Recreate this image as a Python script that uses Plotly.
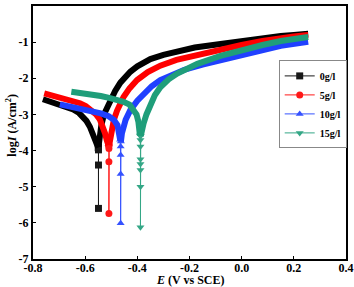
import plotly.graph_objects as go

# ---------------- data ----------------
names = ["0g/l", "5g/l", "10g/l", "15g/l"]

# 0 g/l
e0_cath = [-0.762, -0.74, -0.72, -0.697, -0.675, -0.646, -0.625, -0.608, -0.595, -0.582, -0.572, -0.565, -0.559, -0.554, -0.550]
i0_cath = [-2.58, -2.63, -2.67, -2.71, -2.77, -2.86, -2.95, -3.06, -3.18, -3.34, -3.50, -3.63, -3.75, -3.85, -3.92]
e0_dip = [-0.549, -0.549, -0.549]
i0_dip = [-3.98, -4.40, -5.60]
e0_anod = [-0.549, -0.545, -0.538, -0.528, -0.515, -0.500, -0.485, -0.465, -0.445, -0.427, -0.400, -0.350, -0.300, -0.247, -0.180, -0.081, 0.000, 0.080, 0.150, 0.200, 0.255]
i0_anod = [-3.90, -3.60, -3.30, -3.00, -2.78, -2.55, -2.35, -2.12, -1.95, -1.82, -1.67, -1.47, -1.35, -1.25, -1.15, -1.05, -0.96, -0.89, -0.83, -0.80, -0.77]

# 5 g/l
e5_cath = [-0.757, -0.73, -0.70, -0.672, -0.645, -0.620, -0.598, -0.576, -0.558, -0.543, -0.532, -0.524, -0.517, -0.511]
i5_cath = [-2.42, -2.47, -2.52, -2.56, -2.62, -2.69, -2.77, -2.88, -3.00, -3.15, -3.33, -3.52, -3.72, -3.85]
e5_dip = [-0.509, -0.509, -0.509]
i5_dip = [-3.94, -4.31, -5.74]
e5_anod = [-0.508, -0.503, -0.497, -0.490, -0.478, -0.465, -0.453, -0.430, -0.401, -0.360, -0.312, -0.250, -0.183, -0.081, 0.000, 0.080, 0.150, 0.200, 0.255]
i5_anod = [-3.85, -3.60, -3.35, -3.15, -2.90, -2.70, -2.52, -2.28, -2.05, -1.83, -1.65, -1.49, -1.37, -1.22, -1.08, -0.97, -0.88, -0.84, -0.80]

# 10 g/l
e10_cath = [-0.697, -0.660, -0.620, -0.580, -0.540, -0.510, -0.490, -0.476, -0.469, -0.466]
i10_cath = [-2.72, -2.77, -2.83, -2.88, -2.97, -3.05, -3.15, -3.30, -3.50, -3.70]
e10_dip = [-0.464, -0.464, -0.464, -0.464]
i10_dip = [-3.89, -4.12, -4.65, -6.01]
e10_anod = [-0.463, -0.459, -0.445, -0.427, -0.400, -0.376, -0.345, -0.312, -0.270, -0.222, -0.150, -0.081, 0.000, 0.070, 0.150, 0.200, 0.255]
i10_anod = [-3.75, -3.52, -3.15, -2.88, -2.62, -2.42, -2.22, -2.05, -1.90, -1.77, -1.62, -1.49, -1.35, -1.24, -1.10, -1.04, -0.99]

# 15 g/l
e15_cath = [-0.653, -0.620, -0.580, -0.540, -0.504, -0.475, -0.453, -0.430, -0.414, -0.403, -0.396, -0.392, -0.390]
i15_cath = [-2.37, -2.40, -2.44, -2.49, -2.55, -2.60, -2.65, -2.73, -2.86, -3.00, -3.20, -3.40, -3.58]
e15_dip = [-0.388, -0.388, -0.388, -0.388, -0.388, -0.388, -0.388]
i15_dip = [-3.71, -3.89, -4.24, -4.37, -4.54, -5.00, -6.12]
e15_anod = [-0.387, -0.382, -0.376, -0.365, -0.350, -0.333, -0.312, -0.280, -0.247, -0.210, -0.170, -0.081, 0.000, 0.080, 0.150, 0.200, 0.255]
i15_anod = [-3.60, -3.40, -3.25, -3.00, -2.72, -2.47, -2.25, -2.03, -1.87, -1.72, -1.60, -1.38, -1.22, -1.08, -0.97, -0.91, -0.86]

x_ticks = [-0.8, -0.6, -0.4, -0.2, 0.0, 0.2, 0.4]
x_tick_labels = ["-0.8", "-0.6", "-0.4", "-0.2", "0.0", "0.2", "0.4"]
y_ticks = [0, -1, -2, -3, -4, -5, -6, -7]
y_tick_labels = ["0", "-1", "-2", "-3", "-4", "-5", "-6", "-7"]

# ---------------- styling ----------------
colors = ["#000000", "#ff0000", "#2040ff", "#1f9e7a"]
symbols = ["square", "circle", "triangle-up", "triangle-down"]
series = [
    (e0_cath, i0_cath, e0_dip, i0_dip, e0_anod, i0_anod),
    (e5_cath, i5_cath, e5_dip, i5_dip, e5_anod, i5_anod),
    (e10_cath, i10_cath, e10_dip, i10_dip, e10_anod, i10_anod),
    (e15_cath, i15_cath, e15_dip, i15_dip, e15_anod, i15_anod),
]
FONT = "Liberation Serif"

fig = go.Figure()
for k, (ec, ic, ed, idp, ea, ia) in enumerate(series):
    # thick band made by densely packed data markers
    fig.add_trace(go.Scatter(
        x=ec + [None] + ea, y=ic + [None] + ia, mode="lines",
        line=dict(color=colors[k], width=6), showlegend=False, hoverinfo="skip"))
    # sparse points near the corrosion potential
    fig.add_trace(go.Scatter(
        x=[ec[-1]] + ed + [ea[0]], y=[ic[-1]] + idp + [ia[0]],
        mode="lines+markers", name=names[k],
        line=dict(color=colors[k], width=1),
        marker=dict(symbol=symbols[k], size=7, color=colors[k], line=dict(width=0)),
        opacity=0.9))

axis_common = dict(showline=True, linewidth=2, linecolor="black", mirror=True,
                   showgrid=False, zeroline=False, ticks="inside", ticklen=3,
                   tickwidth=1, tickcolor="black", automargin=False,
                   tickfont=dict(family=FONT, size=12, color="black", weight="bold"))
fig.update_xaxes(range=[-0.8, 0.4], tickvals=x_ticks, ticktext=x_tick_labels,
                 ticklabelstandoff=-3, **axis_common)
fig.update_yaxes(range=[-7, 0], tickvals=y_ticks, ticktext=y_tick_labels, **axis_common)

fig.update_layout(
    width=354, height=287,
    margin=dict(l=33, r=8, t=6, b=28, autoexpand=False),
    paper_bgcolor="white", plot_bgcolor="white",
    font=dict(family=FONT, color="black"),
    legend=dict(x=0.785, y=0.785, xanchor="left", yanchor="top",
                bgcolor="white", bordercolor="#888888", borderwidth=1,
                font=dict(family=FONT, size=10, color="black", weight="bold"),
                itemwidth=30, tracegroupgap=0),
    annotations=[
        dict(text="<b><i>E</i> (V vs SCE)</b>", x=0.5, y=-0.084, xref="paper", yref="paper",
             xanchor="center", yanchor="middle", showarrow=False,
             font=dict(family=FONT, size=12, color="black")),
        dict(text="<b>log<i>I</i> (A/cm<sup>2</sup>)</b>", x=-0.068, y=0.53, xref="paper", yref="paper",
             xanchor="center", yanchor="middle", showarrow=False, textangle=-90,
             font=dict(family=FONT, size=12, color="black")),
    ],
)

fig.write_html("out.html", config={"displayModeBar": False},
               post_script="document.body.style.margin='0';document.body.style.padding='0';")
